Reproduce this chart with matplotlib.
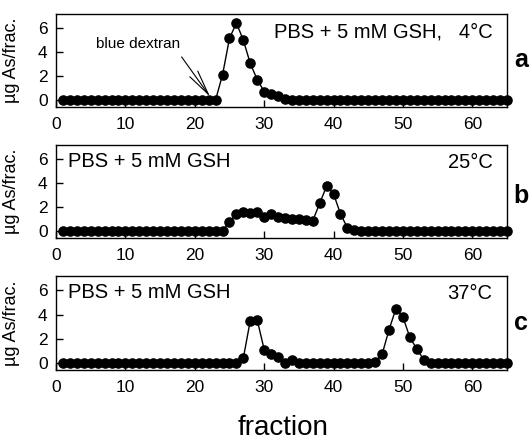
import numpy as np
import matplotlib
matplotlib.use("Agg")
import matplotlib.pyplot as plt

plt.rcParams['font.family'] = ['Liberation Sans', 'DejaVu Sans']

# fraction number 1..65
fractions = np.arange(1, 66)

# ug As per fraction, 4 C
gsh_4c = [0, 0, 0, 0, 0, 0, 0, 0, 0, 0,
          0, 0, 0, 0, 0, 0, 0, 0, 0, 0,
          0, 0, 0, 2.1, 5.15, 6.45, 5.0, 3.05, 1.7, 0.7,
          0.45, 0.3, 0.05, 0, 0, 0, 0, 0, 0, 0,
          0, 0, 0, 0, 0, 0, 0, 0, 0, 0,
          0, 0, 0, 0, 0, 0, 0, 0, 0, 0,
          0, 0, 0, 0, 0]

# 25 C
gsh_25c = [0, 0, 0, 0, 0, 0, 0, 0, 0, 0,
           0, 0, 0, 0, 0, 0, 0, 0, 0, 0,
           0, 0, 0, 0, 0.75, 1.38, 1.55, 1.5, 1.55, 1.2,
           1.45, 1.15, 1.1, 1.0, 1.0, 0.92, 0.85, 2.3, 3.75, 3.1,
           1.42, 0.25, 0.05, 0, 0, 0, 0, 0, 0, 0,
           0, 0, 0, 0, 0, 0, 0, 0, 0, 0,
           0, 0, 0, 0, 0]

# 37 C
gsh_37c = [0, 0, 0, 0, 0, 0, 0, 0, 0, 0,
           0, 0, 0, 0, 0, 0, 0, 0, 0, 0,
           0, 0, 0, 0, 0, 0, 0.4, 3.5, 3.55, 1.1,
           0.75, 0.5, 0.0, 0.25, 0, 0, 0, 0, 0, 0,
           0, 0, 0, 0, 0, 0.1, 0.7, 2.75, 4.5, 3.8,
           2.1, 1.15, 0.25, 0, 0, 0, 0, 0, 0, 0,
           0, 0, 0, 0, 0]

series = [gsh_4c, gsh_25c, gsh_37c]
left_labels = ['', 'PBS + 5 mM GSH', 'PBS + 5 mM GSH']
right_labels = ['PBS + 5 mM GSH,   4°C', '25°C', '37°C']
panel_letters = ['a', 'b', 'c']

# axes boxes [left, bottom, width, height] in figure fraction
boxes = [[0.1053, 0.7568, 0.8477, 0.2114],
         [0.1053, 0.4591, 0.8477, 0.2114],
         [0.1053, 0.1591, 0.8477, 0.2136]]
letter_y = [0.5, 0.45, 0.5]

fig = plt.figure(figsize=(5.32, 4.40), dpi=100)

for i, vals in enumerate(series):
    ax = fig.add_axes(boxes[i])
    ax.plot(fractions, vals, color='black', lw=1.0, marker='o',
            markersize=6.6, markerfacecolor='black', markeredgecolor='black',
            clip_on=False, zorder=3)
    ax.set_xlim(0, 65)
    ax.set_ylim(-0.6, 7.2)
    ax.set_xticks(np.arange(0, 61, 10))
    ax.set_yticks([0, 2, 4, 6])
    ax.tick_params(direction='in', length=5, width=1, labelsize=12.5)
    ax.tick_params(axis='x', pad=7)
    ax.tick_params(axis='y', pad=6)
    for sp in ax.spines.values():
        sp.set_linewidth(1.0)
    ax.set_ylabel('µg As/frac.', fontsize=13)
    ax.yaxis.set_label_coords(-0.08, 0.5)

    if left_labels[i]:
        ax.text(0.027, 0.82, left_labels[i], transform=ax.transAxes,
                fontsize=14.5, ha='left', va='center')
    ax.text(0.968, 0.81, right_labels[i], transform=ax.transAxes,
            fontsize=14.5, ha='right', va='center')
    ax.text(1.031, letter_y[i], panel_letters[i], transform=ax.transAxes,
            fontsize=18, fontweight='bold', ha='center', va='center')

    if i == 0:
        ax.text(11.8, 4.67, 'blue dextran', fontsize=11, ha='center', va='center')
        ax.annotate('', xy=(22.2, 0.27), xytext=(18.1, 3.6),
                    arrowprops=dict(arrowstyle='->,head_length=1.8,head_width=0.35',
                                    lw=0.8, color='black', shrinkA=0, shrinkB=0))

fig.text(0.532, 0.027, 'fraction', fontsize=20, ha='center', va='center')

fig.savefig('out.png', dpi=100)
